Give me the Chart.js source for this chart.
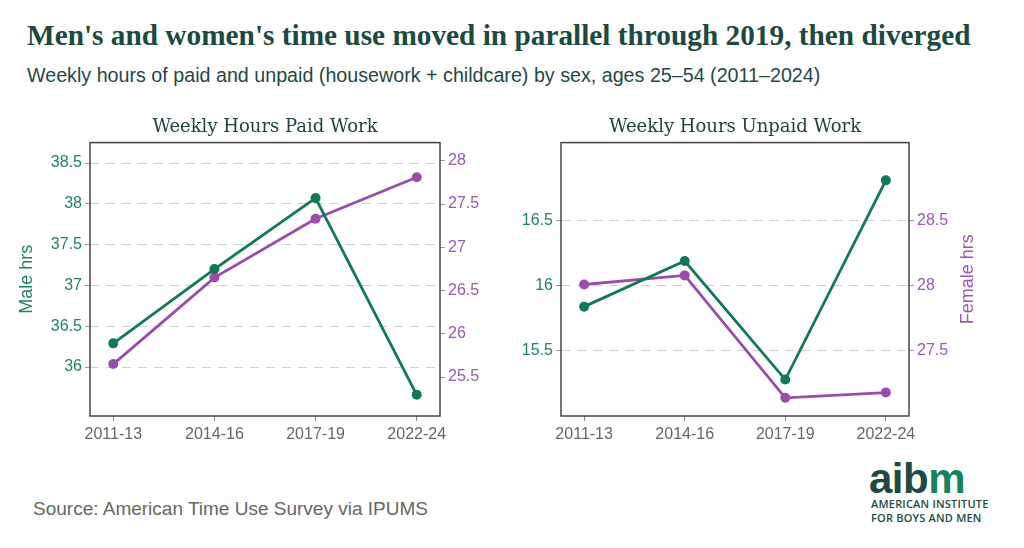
<!DOCTYPE html>
<html>
<head>
<meta charset="utf-8">
<script src="https://cdn.jsdelivr.net/npm/chart.js@4.4.1/dist/chart.umd.min.js"></script>
<style>
  body { margin: 0; width: 1024px; height: 548px; background: #fff; position: relative; overflow: hidden;
         font-family: 'Liberation Sans', Arial, sans-serif; }
  .txt { position: absolute; white-space: nowrap; }
  #title { left: 27px; top: 18px; font: bold 29.3px/34px 'Liberation Serif', serif; color: #1c4a40; }
  #subtitle { left: 27px; top: 64px; font-size: 19.7px; line-height: 22px; color: #1f4848; }
  #source { left: 33px; top: 498px; font-size: 19px; line-height: 22px; color: #666; }
  #logo { left: 869px; top: 458px; font: bold 42px/42px 'Liberation Sans', Arial, sans-serif; color: #1d4a42; letter-spacing: -0.5px; }
  #logo span { color: #13845e; }
  .org { left: 871px; font: 600 11px/14px 'Open Sans', sans-serif; color: #1d4a42; letter-spacing: 0.2px; }
  canvas { position: absolute; top: 100px; }
</style>
</head>
<body>
<div class="txt" id="title">Men's and women's time use moved in parallel through 2019, then diverged</div>
<div class="txt" id="subtitle">Weekly hours of paid and unpaid (housework + childcare) by sex, ages 25–54 (2011–2024)</div>
<canvas id="paid" width="490" height="348" style="left:0"></canvas>
<canvas id="unpaid" width="500" height="348" style="left:490px"></canvas>
<div class="txt" id="source">Source: American Time Use Survey via IPUMS</div>
<div class="txt" id="logo">aib<span>m</span></div>
<div class="txt org" style="top:497px">AMERICAN INSTITUTE</div>
<div class="txt org" style="top:511px">FOR BOYS AND MEN</div>
<script>
const periods = ['2011-13', '2014-16', '2017-19', '2022-24'];

const paidMale = [36.29, 37.2, 38.07, 35.66];
const paidFemale = [25.65, 26.65, 27.33, 27.81];
const unpaidMale = [15.84, 16.19, 15.28, 16.81];
const unpaidFemale = [28.01, 28.08, 27.14, 27.18];

const paidMaleTicks = [36, 36.5, 37, 37.5, 38, 38.5];
const paidFemaleTicks = [25.5, 26, 26.5, 27, 27.5, 28];
const unpaidMaleTicks = [15.5, 16, 16.5];
const unpaidFemaleTicks = [27.5, 28, 28.5];

const GREEN = '#11795a', PURPLE = '#9a4cab', GREEN_TXT = '#1f8262', PURPLE_TXT = '#9b58b0';

const boxPlugin = {
  id: 'box',
  beforeDatasetsDraw(chart) {
    const a = chart.chartArea, ctx = chart.ctx;
    ctx.save();
    ctx.strokeStyle = '#444';
    ctx.lineWidth = 1.5;
    ctx.strokeRect(a.left, a.top, a.right - a.left, a.bottom - a.top);
    ctx.restore();
  }
};

// right axis title, read bottom-to-top like the left one
const sideTitle = {
  id: 'sideTitle',
  afterDraw(chart, args, opts) {
    if (!opts.text) return;
    const s = chart.scales.f, a = chart.chartArea, ctx = chart.ctx;
    ctx.save();
    ctx.translate(s.right - opts.offset, (a.top + a.bottom) / 2);
    ctx.rotate(-Math.PI / 2);
    ctx.font = "18px 'Liberation Sans', Arial, sans-serif";
    ctx.fillStyle = PURPLE_TXT;
    ctx.textAlign = 'center';
    ctx.textBaseline = 'middle';
    ctx.fillText(opts.text, 0, 0);
    ctx.restore();
  }
};

const pts = arr => arr.map((v, i) => ({ x: i, y: v }));
const fixTicks = vals => s => { s.ticks = vals.map(v => ({ value: v })); };

function series(data, color, axis) {
  return { data: pts(data), yAxisID: axis, borderColor: color, backgroundColor: color,
    borderWidth: 2.8, pointRadius: 5, pointBorderWidth: 0, tension: 0 };
}

function makeChart(id, title, male, female, mTicks, fTicks, mRange, fRange, leftW, rightW, leftTitle, rightTitle) {
  new Chart(document.getElementById(id).getContext('2d'), {
    type: 'line',
    data: { datasets: [series(male, GREEN, 'm'), series(female, PURPLE, 'f')] },
    options: {
      responsive: false, animation: false,
      layout: { padding: 0 },
      plugins: {
        legend: { display: false }, tooltip: { enabled: false },
        title: { display: true, text: title, fullSize: false, color: '#1d4340',
          font: { family: "'DejaVu Serif', serif", size: 18, weight: 'normal' },
          padding: { top: 17, bottom: 4 } },
        sideTitle: { text: rightTitle, offset: 22 }
      },
      scales: {
        x: {
          type: 'linear', min: -0.23, max: 3.23,
          afterBuildTicks: fixTicks([0, 1, 2, 3]),
          ticks: { callback: v => periods[v], color: '#666', font: { size: 16 }, padding: 4, maxRotation: 0, autoSkip: false },
          grid: { drawOnChartArea: false, tickLength: 5, tickColor: '#888' },
          border: { display: false },
          afterFit: s => { s.height = 32; }
        },
        m: {
          position: 'left', min: mRange[0], max: mRange[1],
          afterBuildTicks: fixTicks(mTicks),
          ticks: { color: GREEN_TXT, font: { size: 16 }, padding: 3, callback: v => String(v) },
          grid: { color: '#cfcfcf', lineWidth: 1, tickLength: 5, tickColor: '#999' },
          border: { display: false, dash: [9, 7] },
          title: { display: !!leftTitle, text: leftTitle, color: GREEN_TXT, font: { size: 18 }, padding: { top: 16, bottom: 0 } },
          afterFit: s => { s.width = leftW; }
        },
        f: {
          position: 'right', min: fRange[0], max: fRange[1],
          afterBuildTicks: fixTicks(fTicks),
          ticks: { color: PURPLE_TXT, font: { size: 16 }, padding: 3, callback: v => String(v) },
          grid: { drawOnChartArea: false, tickLength: 5, tickColor: '#999' },
          border: { display: false },
          afterFit: s => { s.width = rightW; }
        }
      }
    },
    plugins: [boxPlugin, sideTitle]
  });
}

makeChart('paid', 'Weekly Hours Paid Work', paidMale, paidFemale, paidMaleTicks, paidFemaleTicks,
  [35.4, 38.75], [25.05, 28.21], 90, 50, 'Male hrs', '');
makeChart('unpaid', 'Weekly Hours Unpaid Work', unpaidMale, unpaidFemale, unpaidMaleTicks, unpaidFemaleTicks,
  [15.0, 17.1], [27.0, 29.1], 71, 81, '', 'Female hrs');
</script>
</body>
</html>
